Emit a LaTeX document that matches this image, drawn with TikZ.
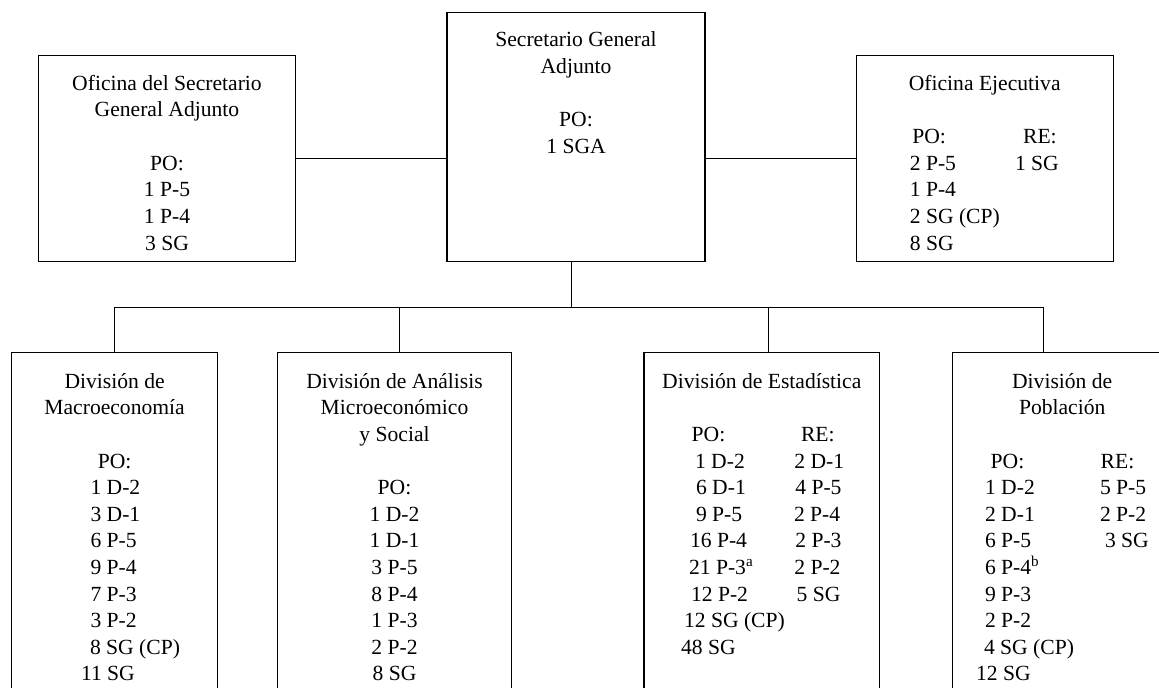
\documentclass[tikz,border=0pt]{standalone}
\usepackage{fontspec}
\setmainfont{Liberation Serif}
\usetikzlibrary{fit}
\newcommand\chartfont{\fontsize{10.8}{13}\selectfont}
\newcommand\orgbox[5]{%
  \coordinate (#1-a) at (#2,#3);
  \coordinate (#1-b) at (#4,#5);
  \node[box, fit=(#1-a)(#1-b)] (#1) {};}
\tikzset{
  every node/.style={inner sep=0pt, outer sep=0pt},
  box/.style={draw=black, line width=0.6pt, inner sep=0pt},
  conn/.style={draw=black, line width=0.6pt},
  ctr/.style={anchor=base, font=\chartfont, text=black},
  lft/.style={anchor=base west, font=\chartfont, text=black},
}
\begin{document}
\begin{tikzpicture}[x=0.5pt,y=-0.5pt]
\useasboundingbox (0,0) rectangle (1159,687);
\fill[white] (0,0) rectangle (1159,687);
\clip (0,0) rectangle (1159,687);

% boxes
\orgbox{lb}{38.3}{55.3}{295.7}{261.3}
\orgbox{cb}{447}{12.3}{705}{261.3}
\orgbox{rb}{856.2}{55.3}{1113.2}{261.3}
\orgbox{mb}{11.8}{352.3}{217.8}{720}
\orgbox{ab}{277.5}{352.3}{511.3}{720}
\orgbox{eb}{644}{352.3}{879.3}{720}
\orgbox{pb}{952.3}{352.3}{1200}{720}

% connectors
\draw[conn] (lb.east) -- (lb.east -| cb.west);
\draw[conn] (rb.west -| cb.east) -- (rb.west);
\coordinate (cv) at (571.5,307.3);
\draw[conn] (cv |- cb.south) -- (cv);
\coordinate (d1) at (114.3,307.3);
\coordinate (d2) at (399.3,307.3);
\coordinate (d3) at (768.7,307.3);
\coordinate (d4) at (1043.7,307.3);
\draw[conn] (d1) -- (d4);
\foreach \d/\b in {d1/mb,d2/ab,d3/eb,d4/pb}
  \draw[conn] (\d) -- (\d |- \b.north);

% top left box
\foreach \t/\y [count=\i] in {Oficina del Secretario/90,General Adjunto/116.7,PO:/170,1 P-5/196.7,1 P-4/223.3,3 SG/250}
  \node[ctr] (lt\i) at (167,\y) {\t};
% centre box
\foreach \t/\y [count=\i] in {Secretario General/46.7,Adjunto/73.3,PO:/126.7,1 SGA/153.3}
  \node[ctr] (ct\i) at (576,\y) {\t};
% right box
\node[ctr] (rt0) at (984.7,90) {Oficina Ejecutiva};
\foreach \t/\x/\y [count=\i] in {PO:/912.3/143.3,2 P-5/909.8/170,1 P-4/909.8/196.7,2 SG (CP)/909.8/223.3,8 SG/909.8/250,RE:/1023.1/143.3,1 SG/1015/170}
  \node[lft] (rt\i) at (\x,\y) {\t};

% Macroeconomia
\foreach \t/\k [count=\i] in {División de/0,Macroeconomía/1,PO:/3}
  \node[ctr] (mh\i) at (114.6,{388.3+26.6*\k}) {\t};
\foreach \t/\x/\k [count=\i] in {1 D-2/90.5/4,3 D-1/90.5/5,6 P-5/90.5/6,9 P-4/90.5/7,7 P-3/90.5/8,3 P-2/90.5/9,8 SG (CP)/90/10,11 SG/81/11}
  \node[lft] (mt\i) at (\x,{388.3+26.6*\k}) {\t};

% Analisis micro
\foreach \t/\k [count=\i] in {División de Análisis/0,Microeconómico/1,y Social/2,PO:/4,1 D-2/5,1 D-1/6,3 P-5/7,8 P-4/8,1 P-3/9,2 P-2/10,8 SG/11}
  \node[ctr] (at\i) at (394.5,{388.3+26.6*\k}) {\t};

% Estadistica
\node[ctr] (eh1) at (761.8,388.3) {División de Estadística};
\foreach \t/\x/\k [count=\i] in {PO:/691.7/2,1 D-2/695/3,6 D-1/696/4,9 P-5/696/5,16 P-4/690/6,{21 P-3\textsuperscript{a}}/689/7,12 P-2/691/8,12 SG (CP)/684/9,48 SG/681/10,RE:/801/2,2 D-1/794.3/3,4 P-5/795.3/4,2 P-4/794/5,2 P-3/795.3/6,2 P-2/794.3/7,5 SG/796.7/8}
  \node[lft] (et\i) at (\x,{388.3+26.6*\k}) {\t};

% Poblacion
\foreach \t/\k [count=\i] in {División de/0,Población/1}
  \node[ctr] (ph\i) at (1062.2,{388.3+26.6*\k}) {\t};
\foreach \t/\x/\k [count=\i] in {PO:/990.7/3,1 D-2/985/4,2 D-1/985/5,6 P-5/985/6,{6 P-4\textsuperscript{b}}/985/7,9 P-3/985/8,2 P-2/985/9,4 SG (CP)/984/10,12 SG/976/11,RE:/1100.7/3,5 P-5/1100/4,2 P-2/1100/5,3 SG/1105/6}
  \node[lft] (pt\i) at (\x,{388.3+26.6*\k}) {\t};
\end{tikzpicture}
\end{document}
